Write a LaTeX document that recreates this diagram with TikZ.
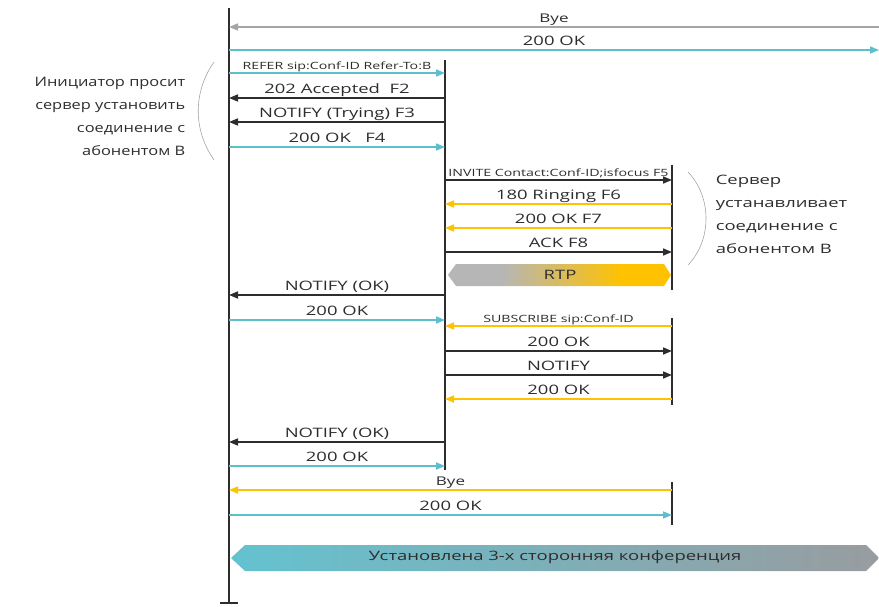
\documentclass[tikz,border=0pt]{standalone}
\usepackage{fontspec}
\setmainfont[FakeStretch=1.42]{Open Sans}
\newfontfamily\narrowfont[FakeStretch=1.26]{Open Sans}
\usetikzlibrary{arrows.meta}
\definecolor{sipcyan}{RGB}{93,190,206}
\definecolor{sipyellow}{RGB}{255,194,0}
\definecolor{sipgray}{RGB}{165,165,165}
\definecolor{rtpgray}{RGB}{182,182,182}
\definecolor{sipdark}{RGB}{45,45,45}
\definecolor{confcyan}{RGB}{100,194,208}
\definecolor{confgray}{RGB}{152,156,159}
\pgfdeclarehorizontalshading{rtpshade}{100bp}{color(0bp)=(rtpgray); color(37bp)=(rtpgray); color(64bp)=(sipyellow); color(100bp)=(sipyellow)}

\begin{document}
\begin{tikzpicture}[x=1pt, y=-1pt, line width=1.6pt,
	msg/.style={-{Triangle[length=9pt,width=7pt]}},
	life/.style={draw=sipdark, line width=1.3pt},
	lbl/.style={midway, above, inner sep=1pt, text depth=2.5pt, font=\fontsize{13}{13}\selectfont},
	tiny/.style={midway, above, inner sep=1pt, text depth=2pt, font=\fontsize{10}{10}\selectfont},
	note/.style={inner sep=0pt, font=\fontsize{13}{23}\selectfont, text=sipdark}]
	\useasboundingbox (0,0) rectangle (879,607);
	% lifelines: initiator, conference server, subscriber B, far party
	\coordinate (ini) at (229,0);
	\coordinate (srv) at (445,0);
	\coordinate (abb) at (672,0);
	\coordinate (ext) at (879,0);
	\draw[life] (ini |- 0,8) -- (ini |- 0,603);
	\draw[life] (220,603) -- (238,603);
	\draw[life] (srv |- 0,60) -- (srv |- 0,470);
	\draw[life] (abb |- 0,165) -- (abb |- 0,290);
	\draw[life] (abb |- 0,318) -- (abb |- 0,405);
	\draw[life] (abb |- 0,482) -- (abb |- 0,525);
	% existing call is released
	\draw[msg, sipgray] (ext |- 0,27) -- (ini |- 0,27) node[lbl, text=sipdark, font=\fontsize{12}{12}\selectfont] {Bye};
	\draw[msg, sipcyan] (ini |- 0,50) -- (ext |- 0,50) node[lbl, text=sipdark] {200 OK};
	% REFER to the conference server
	\draw[msg, sipcyan] (ini |- 0,73) -- (srv |- 0,73) node[tiny, text=sipdark] {REFER sip:Conf-ID Refer-To:B};
	\draw[msg, sipdark] (srv |- 0,98) -- (ini |- 0,98) node[lbl] {202 Accepted~~F2};
	\draw[msg, sipdark] (srv |- 0,122) -- (ini |- 0,122) node[lbl] {NOTIFY (Trying) F3};
	\draw[msg, sipcyan] (ini |- 0,147) -- (srv |- 0,147) node[lbl, text=sipdark] {200 OK~~~F4};
	\draw[sipgray, line width=0.6pt] (214,62) .. controls (193,92) and (193,130) .. (214,160);
	\node[note, anchor=east, align=right, font=\narrowfont\fontsize{13}{23}\selectfont] (noteL) at (186,116) {Инициатор просит\\сервер установить\\соединение с\\абонентом В};
	% server invites B
	\draw[msg, sipdark] (srv |- 0,180) -- (abb |- 0,180) node[tiny] {INVITE Contact:Conf-ID;isfocus F5};
	\draw[msg, sipyellow] (abb |- 0,204) -- (srv |- 0,204) node[lbl, text=sipdark] {180 Ringing F6};
	\draw[msg, sipyellow] (abb |- 0,228) -- (srv |- 0,228) node[lbl, text=sipdark] {200 OK F7};
	\draw[msg, sipdark] (srv |- 0,252) -- (abb |- 0,252) node[lbl] {ACK F8};
	\shade[shading=rtpshade]
		(448,275) -- (456,264) -- (664,264) -- (671,275) -- (664,286) -- (456,286) -- cycle;
	\node[font=\fontsize{13}{13}\selectfont, text=sipdark] (rtp) at (560,275) {RTP};
	\draw[sipgray, line width=0.6pt] (688,172) .. controls (712,197) and (712,240) .. (688,265);
	\node[note, anchor=west, align=left] (noteR) at (715,214) {Сервер\\устанавливает\\соединение с\\абонентом В};
	% REFER result
	\draw[msg, sipdark] (srv |- 0,295) -- (ini |- 0,295) node[lbl] {NOTIFY (OK)};
	\draw[msg, sipcyan] (ini |- 0,320) -- (srv |- 0,320) node[lbl, text=sipdark] {200 OK};
	% B subscribes to the conference
	\draw[msg, sipyellow] (abb |- 0,326) -- (srv |- 0,326) node[tiny, text=sipdark] {SUBSCRIBE sip:Conf-ID};
	\draw[msg, sipdark] (srv |- 0,351) -- (abb |- 0,351) node[lbl] {200 OK};
	\draw[msg, sipdark] (srv |- 0,375) -- (abb |- 0,375) node[lbl] {NOTIFY};
	\draw[msg, sipyellow] (abb |- 0,399) -- (srv |- 0,399) node[lbl, text=sipdark] {200 OK};
	\draw[msg, sipdark] (srv |- 0,442) -- (ini |- 0,442) node[lbl] {NOTIFY (OK)};
	\draw[msg, sipcyan] (ini |- 0,466) -- (srv |- 0,466) node[lbl, text=sipdark] {200 OK};
	% B leaves the old dialog
	\draw[msg, sipyellow] (abb |- 0,490) -- (ini |- 0,490) node[lbl, text=sipdark, font=\fontsize{12}{12}\selectfont] {Bye};
	\draw[msg, sipcyan] (ini |- 0,515) -- (abb |- 0,515) node[lbl, text=sipdark] {200 OK};
	% conference established
	\shade[left color=confcyan, right color=confgray]
		(231,558) -- (245,545) -- (866,545) -- (879,558) -- (866,571) -- (245,571) -- cycle;
	\node[font=\fontsize{13}{13}\selectfont, text=sipdark] (conf) at (555,557) {Установлена 3-х сторонняя конференция};
\end{tikzpicture}
\end{document}
